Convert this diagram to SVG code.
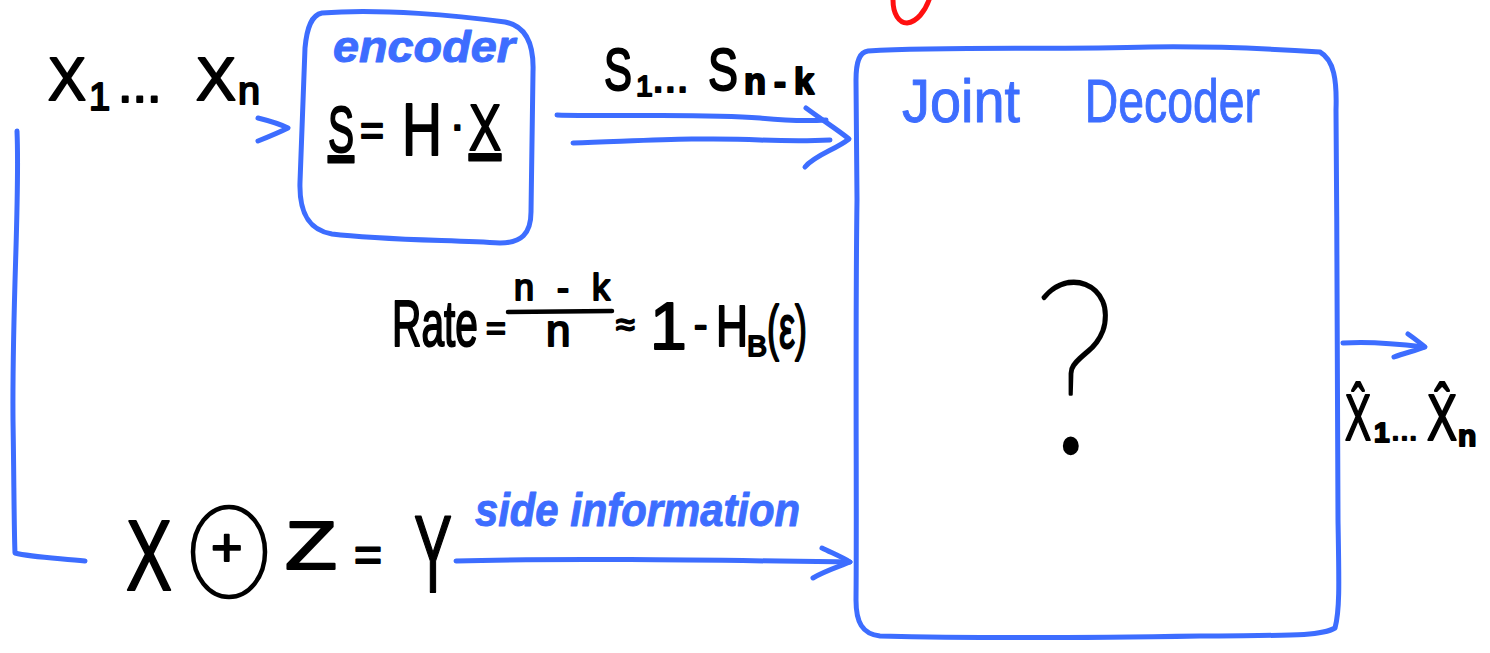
<svg xmlns="http://www.w3.org/2000/svg" width="1490" height="653" viewBox="0 0 1490 653">
<defs>
<style>
.bl{fill:none;stroke:#3d6dff;stroke-width:5;stroke-linecap:round;stroke-linejoin:round}
.rd{fill:none;stroke:#ff1010;stroke-width:5;stroke-linecap:round}
.bk{fill:none;stroke:#000;stroke-width:4.5;stroke-linecap:round}
.t{font-family:"Liberation Sans","DejaVu Sans",sans-serif;fill:#000;stroke:#000;stroke-width:2;stroke-linejoin:round}
.tb{font-family:"Liberation Sans","DejaVu Sans",sans-serif;fill:#3d6dff;stroke:#3d6dff;stroke-width:1;stroke-linejoin:round}
.q{font-family:"Lato","Inter","Open Sans",sans-serif;font-weight:200;fill:#000;stroke:#000;stroke-width:3;stroke-linejoin:round}
</style>
</defs>
<rect width="1490" height="653" fill="#fff"/>

<path class="rd" d="M893 0 C893 14 899 23 907 23 C917 22 925 11 929 0"/>

<g id="connectors">
<path class="bl" d="M17 131 C20 200 12 300 13 420 C14 480 14 530 15 553 C30 557 55 558 85 561"/>
<path class="bl" d="M258 118 C270 121 280 124 288 128 C278 133 268 137 258 141"/>
<path class="bl" d="M557 115 C620 117 700 113 760 118 C790 121 810 121 826 120"/>
<path class="bl" d="M573 143 C640 141 700 137 760 140 C790 141 810 141 830 140"/>
<path class="bl" d="M806 108 C825 122 838 130 849 139 C835 150 815 155 805 167"/>
<path class="bl" d="M456 561 C560 558 700 560 850 562"/>
<path class="bl" d="M822 548 C832 553 842 557 850 562 C838 567 825 571 813 578"/>
<path class="bl" d="M1343 343 C1370 341 1400 344 1424 347"/>
<path class="bl" d="M1408 334 C1414 338 1420 343 1425 347 C1415 351 1404 353 1394 357"/>
</g>

<g id="input">
<text class="t" font-size="62"><tspan x="48" y="100" textLength="38" lengthAdjust="spacingAndGlyphs">X</tspan><tspan x="89" y="110" font-size="38">1</tspan><tspan x="118" y="102" font-size="52">...</tspan><tspan x="196" y="100" textLength="40" lengthAdjust="spacingAndGlyphs">X</tspan><tspan x="238" y="104" font-size="38" textLength="22" lengthAdjust="spacingAndGlyphs">n</tspan></text>
</g>

<g id="encoder">
<path class="bl" d="M322 13 C380 8 460 16 505 22 C527 26 534 45 533 72 L531 212 C531 234 521 243 500 243 C450 240 380 240 332 234 C308 230 299 212 300 182 L305 48 C307 26 312 15 322 13 Z"/>
<text class="tb" x="333" y="62" font-size="44" font-weight="bold" font-style="italic" textLength="182" lengthAdjust="spacingAndGlyphs">encoder</text>
<text class="t" font-size="64"><tspan x="328" y="152" text-decoration="underline" textLength="26" lengthAdjust="spacingAndGlyphs">S</tspan><tspan x="360" y="146" font-size="44" textLength="24" lengthAdjust="spacingAndGlyphs">=</tspan><tspan x="402" y="155" font-size="74" textLength="40" lengthAdjust="spacingAndGlyphs">H</tspan><tspan x="450" y="140" font-size="44">·</tspan><tspan x="469" y="150" text-decoration="underline" textLength="32" lengthAdjust="spacingAndGlyphs">X</tspan></text>
</g>

<g id="syndrome-label">
<text class="t" font-size="60"><tspan x="604" y="90" textLength="28" lengthAdjust="spacingAndGlyphs">S</tspan><tspan x="636" y="96" font-size="30">1</tspan><tspan x="652" y="92" font-size="44">...</tspan><tspan x="708" y="90" textLength="30" lengthAdjust="spacingAndGlyphs">S</tspan><tspan x="744" y="94" font-size="36" font-weight="bold" textLength="70" lengthAdjust="spacing">n-k</tspan></text>
</g>

<g id="decoder">
<path class="bl" d="M868 51 C950 46 1050 50 1150 47 C1230 46 1290 50 1320 52 C1334 60 1337 80 1336 110 C1337 250 1338 400 1338 520 C1339 580 1340 610 1335 628 C1320 637 1280 635 1200 636 C1080 638 960 638 880 636 C862 634 856 622 856 600 C857 500 855 350 857 200 L856 80 C856 60 860 52 868 51 Z"/>
<text class="tb" font-size="62"><tspan x="902" y="122" textLength="118" lengthAdjust="spacingAndGlyphs">Joint</tspan><tspan x="1072" y="122" textLength="188" lengthAdjust="spacingAndGlyphs"> Decoder</tspan></text>
<text class="q" x="1032" y="452" font-size="240" textLength="86" lengthAdjust="spacingAndGlyphs">?</text>
</g>

<g id="rate">
<text class="t" font-size="64"><tspan x="392" y="346" textLength="86" lengthAdjust="spacingAndGlyphs">Rate</tspan><tspan x="486" y="340" font-size="34">=</tspan><tspan x="514" y="300" font-size="36" textLength="96" lengthAdjust="spacing">n-k</tspan><tspan x="546" y="346" font-size="44">n</tspan><tspan x="616" y="336" font-size="34">≈</tspan><tspan x="650" y="349" font-size="66">1</tspan><tspan x="694" y="338" font-size="40">-</tspan><tspan x="716" y="346" font-size="58" textLength="32" lengthAdjust="spacingAndGlyphs">H</tspan><tspan x="747" y="356" font-size="30">B</tspan><tspan x="767" y="348" font-size="62" textLength="40" lengthAdjust="spacingAndGlyphs">(ε)</tspan></text>
<path class="bk" d="M508 312 L612 311" stroke-width="3"/>
</g>

<g id="side-source">
<text class="t" font-size="100"><tspan x="126" y="590" textLength="46" lengthAdjust="spacingAndGlyphs">X</tspan><tspan x="211" y="566" font-size="54">+</tspan><tspan x="285" y="569" font-size="68" textLength="52" lengthAdjust="spacingAndGlyphs">Z</tspan><tspan x="354" y="571" font-size="48">=</tspan><tspan x="414" y="592" font-size="110" textLength="38" lengthAdjust="spacingAndGlyphs">Y</tspan></text>
<ellipse class="bk" cx="229" cy="552" rx="36" ry="45"/>
<text class="tb" x="475" y="526" font-size="46" font-weight="bold" font-style="italic" textLength="325" lengthAdjust="spacingAndGlyphs">side information</text>
</g>

<g id="output">
<text class="t" font-size="64"><tspan x="1345" y="440" textLength="26" lengthAdjust="spacingAndGlyphs">X̂</tspan><tspan x="1374" y="442" font-size="28" font-weight="bold">1</tspan><tspan x="1391" y="440" font-size="32">...</tspan><tspan x="1427" y="440" textLength="30" lengthAdjust="spacingAndGlyphs">X̂</tspan><tspan x="1458" y="446" font-size="30" font-weight="bold">n</tspan></text>
</g>
</svg>
